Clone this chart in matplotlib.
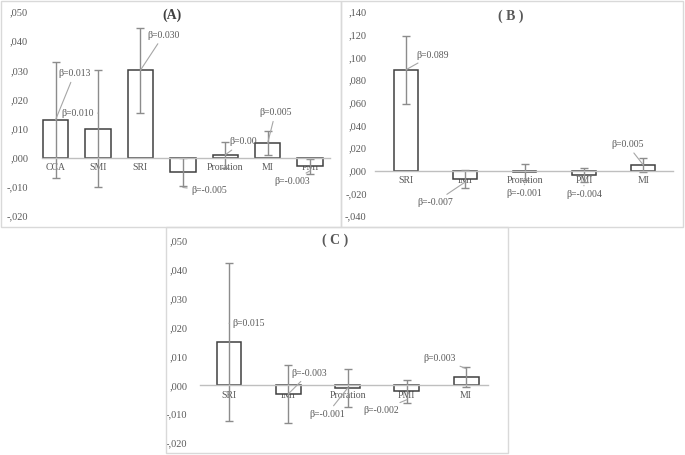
import matplotlib.pyplot as plt
from matplotlib.patches import Rectangle
from matplotlib.ticker import FuncFormatter

plt.rcParams['font.family'] = ['Liberation Serif', 'DejaVu Serif']

# panel A
cats_a = ["CCA", "SMI", "SRI", "IMI", "Proration", "MI", "PMI"]
vals_a = [0.013, 0.010, 0.030, -0.005, 0.001, 0.005, -0.003]
err_a = [0.020, 0.020, 0.0145, 0.0048, 0.0045, 0.004, 0.0025]
labels_a = ["β=0.013", "β=0.010", "β=0.030", "β=-0.005", "β=0.00", "β=0.005", "β=-0.003"]

# panel B
cats_b = ["SRI", "IMI", "Proration", "PMI", "MI"]
vals_b = [0.089, -0.007, -0.001, -0.004, 0.005]
err_b = [0.030, 0.008, 0.007, 0.006, 0.006]
labels_b = ["β=0.089", "β=-0.007", "β=-0.001", "β=-0.004", "β=0.005"]

# panel C
cats_c = ["SRI", "IMI", "Proration", "PMI", "MI"]
vals_c = [0.015, -0.003, -0.001, -0.002, 0.003]
err_c = [0.0275, 0.010, 0.0065, 0.004, 0.0035]
labels_c = ["β=0.015", "β=-0.003", "β=-0.001", "β=-0.002", "β=0.003"]

GREY = "#595959"
W, H = 685, 455


def fmt(v, pos):
    s = "%.3f" % v
    s = s.replace("0.", ",", 1)
    if s == "-,000":
        s = ",000"
    return s


def frame(fig, x0, y0, x1, y1):
    fig.add_artist(Rectangle((x0 / W, 1 - y1 / H), (x1 - x0) / W, (y1 - y0) / H,
                             transform=fig.transFigure, fill=False,
                             edgecolor="#d9d9d9", linewidth=1))


def panel(fig, px, cats, vals, errs, ylim, step, xlim, width, ypad):
    x0, y0, x1, y1 = px
    ax = fig.add_axes([x0 / W, 1 - y1 / H, (x1 - x0) / W, (y1 - y0) / H])
    ax.bar(range(len(cats)), vals, width=width, color="white",
           edgecolor="#404040", linewidth=1.1, yerr=errs,
           error_kw=dict(ecolor="#8c8c8c", elinewidth=1, capsize=3, capthick=1),
           zorder=2)
    ax.set_xlim(*xlim)
    ax.set_ylim(*ylim)
    n = int(round((ylim[1] - ylim[0]) / step))
    ax.set_yticks([ylim[0] + i * step for i in range(n + 1)])
    ax.yaxis.set_major_formatter(FuncFormatter(fmt))
    ax.set_xticks(range(len(cats)))
    ax.set_xticklabels(cats)
    for s in ["top", "right", "left"]:
        ax.spines[s].set_visible(False)
    ax.spines["bottom"].set_position(("data", 0))
    ax.spines["bottom"].set_color("#bfbfbf")
    ax.spines["bottom"].set_linewidth(1)
    ax.spines["bottom"].set_zorder(3)
    ax.tick_params(axis="both", length=0, colors=GREY)
    ax.tick_params(axis="y", pad=ypad, labelsize=7.5)
    ax.tick_params(axis="x", pad=4, labelsize=7)
    ax.patch.set_alpha(0)
    return ax


def note(ax, text, xy, xytext, ha="left"):
    ax.annotate(text, xy=xy, xytext=xytext, ha=ha, va="center", fontsize=7,
                color=GREY, zorder=4,
                arrowprops=dict(arrowstyle="-", color="#a6a6a6", lw=0.8,
                                shrinkA=1, shrinkB=0))


fig = plt.figure(figsize=(6.85, 4.55), dpi=100)

frame(fig, 1, 1, 341, 227)
frame(fig, 341, 1, 683, 227)
frame(fig, 166, 227, 508, 453)

ax_a = panel(fig, (42, 12, 330, 216), cats_a, vals_a, err_a,
             (-0.020, 0.050), 0.010, (-0.32, 6.47), 0.6, 10)
ax_b = panel(fig, (375, 12, 673, 216), cats_b, vals_b, err_b,
             (-0.040, 0.140), 0.020, (-0.52, 4.5), 0.4, 6)
ax_c = panel(fig, (200, 241, 488, 443), cats_c, vals_c, err_c,
             (-0.020, 0.050), 0.010, (-0.49, 4.37), 0.42, 9)

fig.text(172 / W, 1 - 15 / H, "(A)", ha="center", va="center",
         fontsize=10, fontweight="bold", color="#404040")
fig.text(511 / W, 1 - 16 / H, "( B )", ha="center", va="center",
         fontsize=10, fontweight="bold", color="#595959")
fig.text(335 / W, 1 - 240 / H, "( C )", ha="center", va="center",
         fontsize=10, fontweight="bold", color="#595959")

# panel A labels
note(ax_a, labels_a[0], (0, vals_a[0]), (0.06, 0.0288))
note(ax_a, labels_a[1], (1, 0.0153), (0.13, 0.0153))
note(ax_a, labels_a[2], (2, vals_a[2]), (2.16, 0.042))
note(ax_a, labels_a[3], (3, -0.0102), (3.2, -0.0114))
note(ax_a, labels_a[4], (4, vals_a[4]), (4.09, 0.0054))
note(ax_a, labels_a[5], (5, vals_a[5]), (5.18, 0.0154), ha="center")
note(ax_a, labels_a[6], (6, -0.0045), (5.15, -0.0080))

# panel B labels
note(ax_b, labels_b[0], (0, vals_b[0]), (0.17, 0.102))
note(ax_b, labels_b[1], (1, -0.010), (0.79, -0.028), ha="right")
note(ax_b, labels_b[2], (2, -0.012), (2.0, -0.020), ha="center")
note(ax_b, labels_b[3], (3, -0.013), (3.0, -0.021), ha="center")
note(ax_b, labels_b[4], (4, vals_b[4]), (3.73, 0.023), ha="center")

# panel C labels
note(ax_c, labels_c[0], (0, 0.0215), (0.05, 0.0215))
note(ax_c, labels_c[1], (1, vals_c[1]), (1.05, 0.0042))
note(ax_c, labels_c[2], (2, vals_c[2]), (1.35, -0.010))
note(ax_c, labels_c[3], (3, -0.005), (2.87, -0.0087), ha="right")
note(ax_c, labels_c[4], (4, 0.0058), (3.83, 0.0093), ha="right")

fig.savefig("out.png", dpi=100)
